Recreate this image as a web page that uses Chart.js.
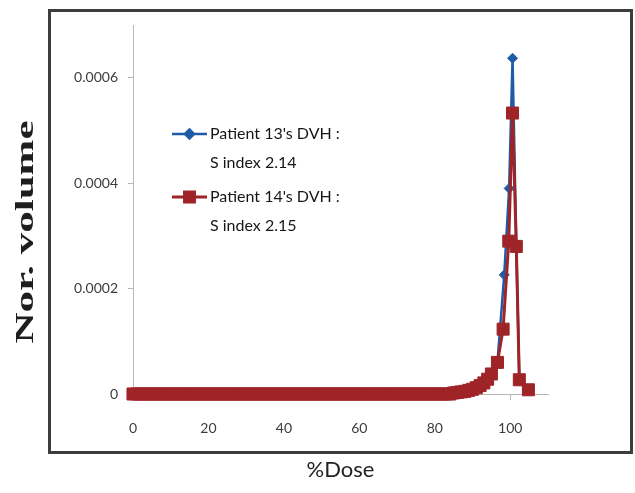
<!DOCTYPE html>
<html>
<head>
<meta charset="utf-8">
<title>DVH comparison</title>
<script src="https://cdn.jsdelivr.net/npm/chart.js@4.4.0/dist/chart.umd.min.js"></script>
<style>
  html, body { margin: 0; padding: 0; background: #fff; }
  .wrap { position: relative; width: 635px; height: 493px; }
  /* dark outer frame around the plot, like the Excel chart area */
  .frame { position: absolute; left: 48px; top: 9px; width: 585px; height: 445px;
           box-sizing: border-box; border: 3px solid #3d3d3d; pointer-events: none; }
</style>
</head>
<body>
<div class="wrap">
  <canvas id="dvhChart" width="635" height="493"></canvas>
  <div class="frame"></div>
</div>
<script>
// --- Data ---
const doseP13 = [
  0, 1, 2, 3, 4, 5, 6, 7, 8, 9, 10, 11, 12, 13, 14, 15, 16, 17, 18, 19,
  20, 21, 22, 23, 24, 25, 26, 27, 28, 29, 30, 31, 32, 33, 34, 35, 36, 37, 38, 39,
  40, 41, 42, 43, 44, 45, 46, 47, 48, 49, 50, 51, 52, 53, 54, 55, 56, 57, 58, 59,
  60, 61, 62, 63, 64, 65, 66, 67, 68, 69, 70, 71, 72, 73, 74, 75, 76, 77, 78, 79,
  80, 81, 82, 83, 84, 85, 86, 87, 88, 89, 90, 91, 92, 93, 94, 95,
  96.6, 98.4, 99.7, 100.6, 101.6, 102.4
];
const volumeP13 = [
  0, 0, 0, 0, 0, 0, 0, 0, 0, 0, 0, 0, 0, 0, 0, 0, 0, 0, 0, 0,
  0, 0, 0, 0, 0, 0, 0, 0, 0, 0, 0, 0, 0, 0, 0, 0, 0, 0, 0, 0,
  0, 0, 0, 0, 0, 0, 0, 0, 0, 0, 0, 0, 0, 0, 0, 0, 0, 0, 0, 0,
  0, 0, 0, 0, 0, 0, 0, 0, 0, 0, 0, 0, 0, 0, 0, 0, 0, 0, 0, 0,
  0, 0, 0, 0, 0, 0.000002, 0.000003, 0.000004, 0.000005, 0.000007, 0.000009, 0.000012, 0.000016, 0.000021, 0.000028, 0.000038,
  0.00006, 0.000226, 0.00039, 0.000637, 0.00028, 0.000027
];

const doseP14 = [
  0, 1, 2, 3, 4, 5, 6, 7, 8, 9, 10, 11, 12, 13, 14, 15, 16, 17, 18, 19,
  20, 21, 22, 23, 24, 25, 26, 27, 28, 29, 30, 31, 32, 33, 34, 35, 36, 37, 38, 39,
  40, 41, 42, 43, 44, 45, 46, 47, 48, 49, 50, 51, 52, 53, 54, 55, 56, 57, 58, 59,
  60, 61, 62, 63, 64, 65, 66, 67, 68, 69, 70, 71, 72, 73, 74, 75, 76, 77, 78, 79,
  80, 81, 82, 83, 84, 85, 86, 87, 88, 89, 90, 91, 92, 93, 94, 95,
  96.6, 98.1, 99.6, 100.6, 101.6, 102.4, 104.8
];
const volumeP14 = [
  0, 0, 0, 0, 0, 0, 0, 0, 0, 0, 0, 0, 0, 0, 0, 0, 0, 0, 0, 0,
  0, 0, 0, 0, 0, 0, 0, 0, 0, 0, 0, 0, 0, 0, 0, 0, 0, 0, 0, 0,
  0, 0, 0, 0, 0, 0, 0, 0, 0, 0, 0, 0, 0, 0, 0, 0, 0, 0, 0, 0,
  0, 0, 0, 0, 0, 0, 0, 0, 0, 0, 0, 0, 0, 0, 0, 0, 0, 0, 0, 0,
  0, 0, 0, 0, 0, 0.000002, 0.000003, 0.000004, 0.000005, 0.000007, 0.000009, 0.000012, 0.000016, 0.000021, 0.000028, 0.000038,
  0.00006, 0.000123, 0.00029, 0.000533, 0.00028, 0.000027, 0.000008
];

const legendP13 = ["Patient 13's DVH :", 'S index 2.14'];
const legendP14 = ["Patient 14's DVH :", 'S index 2.15'];

const xTicks = [0, 20, 40, 60, 80, 100];
const yTicks = [0, 0.0002, 0.0004, 0.0006];
const yTickLabels = ['0', '0.0002', '0.0004', '0.0006'];

const xTitle = '%Dose';
const yTitle = 'Nor. volume';

const BLUE = '#1f5ba6';
const RED = '#9e2428';

// zip x / y arrays into points for the linear x scale
function toPoints(xs, ys) {
  return xs.map((x, i) => ({ x: x, y: ys[i] }));
}

// --- Legend drawn inside the plot area (two-line labels with line + marker sample) ---
const insideLegend = {
  id: 'insideLegend',
  afterDatasetsDraw(chart, args, opts) {
    const ctx = chart.ctx;
    ctx.save();
    chart.data.datasets.forEach((ds, i) => {
      const y = opts.y + i * opts.rowGap;
      ctx.strokeStyle = ds.borderColor;
      ctx.fillStyle = ds.backgroundColor;
      ctx.lineWidth = ds.borderWidth;
      ctx.beginPath();
      ctx.moveTo(opts.x, y);
      ctx.lineTo(opts.x + opts.sampleWidth, y);
      ctx.stroke();
      Chart.helpers.drawPoint(ctx, {
        pointStyle: ds.pointStyle,
        radius: opts.markerRadius[i],
        rotation: 0,
        borderWidth: 1
      }, opts.x + opts.sampleWidth / 2, y);

      ctx.fillStyle = opts.color;
      ctx.font = opts.font;
      ctx.textAlign = 'left';
      ctx.textBaseline = 'middle';
      opts.labels[i].forEach((line, j) => {
        ctx.fillText(line, opts.x + opts.sampleWidth + 3, y + j * opts.lineGap);
      });
    });
    ctx.restore();
  }
};

// --- Bold serif y title, stretched along its length as in the reference ---
const stretchedYTitle = {
  id: 'stretchedYTitle',
  afterDraw(chart, args, opts) {
    const ctx = chart.ctx;
    ctx.save();
    ctx.font = opts.font;
    const w = ctx.measureText(opts.text).width;
    ctx.translate(opts.x, opts.y);
    ctx.rotate(-Math.PI / 2);
    ctx.scale(opts.length / w, 1);
    ctx.textAlign = 'center';
    ctx.textBaseline = 'alphabetic';
    ctx.fillStyle = opts.color;
    ctx.fillText(opts.text, 0, 0);
    ctx.restore();
  }
};

const ctx = document.getElementById('dvhChart').getContext('2d');
const dvhChart = new Chart(ctx, {
  type: 'line',
  data: {
    datasets: [
      {
        label: legendP13.join(' '),
        data: toPoints(doseP13, volumeP13),
        borderColor: BLUE,
        backgroundColor: BLUE,
        borderWidth: 2.5,
        pointStyle: 'rectRot',
        pointRadius: 5,
        pointBorderWidth: 1,
        tension: 0,
        order: 1,
        clip: false
      },
      {
        label: legendP14.join(' '),
        data: toPoints(doseP14, volumeP14),
        borderColor: RED,
        backgroundColor: RED,
        borderWidth: 3,
        pointStyle: 'rect',
        pointRadius: 8.5,
        pointBorderWidth: 1,
        tension: 0,
        order: 0, // red sits on top of blue
        clip: false
      }
    ]
  },
  options: {
    responsive: false,
    animation: false,
    layout: { padding: { left: 0, top: 25, right: 87, bottom: 0 } },
    plugins: {
      legend: { display: false },
      tooltip: { enabled: false },
      insideLegend: {
        x: 172, y: 134, rowGap: 63, lineGap: 29, sampleWidth: 35,
        markerRadius: [4.5, 7],
        labels: [legendP13, legendP14],
        font: '16px Lato', color: '#161616'
      },
      stretchedYTitle: {
        text: yTitle, x: 33, y: 232, length: 223,
        font: 'bold 26px "Liberation Serif"', color: '#1e1e1e'
      }
    },
    scales: {
      x: {
        type: 'linear',
        min: 0,
        max: 110,
        afterBuildTicks: s => { s.ticks = xTicks.map(v => ({ value: v })); },
        afterFit: s => { s.height = 99; },
        grid: { drawOnChartArea: false, drawTicks: true, tickLength: 6, tickColor: '#b8b8b8' },
        border: { color: '#b8b8b8', width: 1 },
        ticks: { padding: 20, color: '#3c3c3c', maxRotation: 0, font: { family: 'Lato', size: 14 } },
        title: {
          display: true, text: xTitle, color: '#222',
          font: { family: 'Lato', size: 22 }, padding: { top: 0, bottom: 10 }
        }
      },
      y: {
        min: 0,
        max: 0.0007,
        afterBuildTicks: s => { s.ticks = yTicks.map(v => ({ value: v })); },
        afterFit: s => { s.width = 133; },
        grid: { drawOnChartArea: false, drawTicks: true, tickLength: 5, tickColor: '#b8b8b8' },
        border: { color: '#b8b8b8', width: 1 },
        ticks: {
          padding: 10, color: '#3c3c3c', font: { family: 'Lato', size: 14 },
          callback: value => yTickLabels[yTicks.indexOf(value)]
        }
      }
    }
  },
  plugins: [insideLegend, stretchedYTitle]
});
</script>
</body>
</html>
